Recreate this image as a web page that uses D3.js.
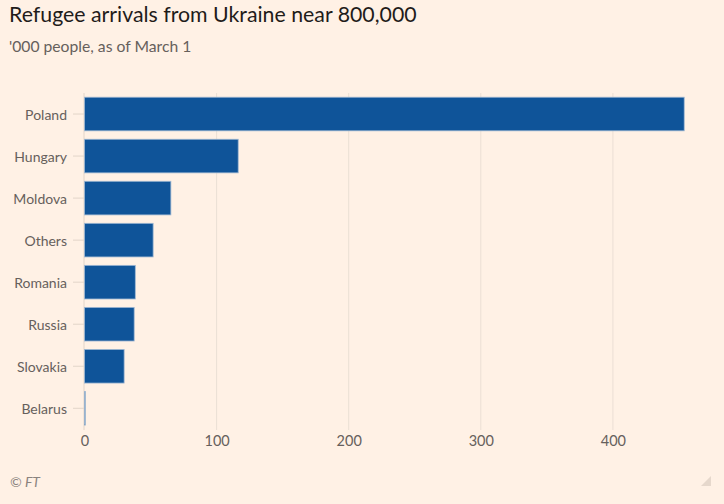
<!DOCTYPE html>
<html><head><meta charset="utf-8">
<script src="https://cdn.jsdelivr.net/npm/d3@7"></script>
<style>
body{margin:0;background:#fff1e5;}
svg{display:block;font-family:Lato,"Noto Sans",sans-serif;}
</style></head><body>
<svg id="c" width="724" height="504"></svg>
<script>
const countries = ["Poland","Hungary","Moldova","Others","Romania","Russia","Slovakia","Belarus"];
const arrivals = [453.98, 116.35, 65.39, 51.95, 38.46, 37.6, 30.0, 0.36];
const xTicks = [0,100,200,300,400];

const svg = d3.select("#c");
svg.append("rect").attr("width",724).attr("height",504).attr("fill","#fff1e5");

svg.append("text").attr("x",9).attr("y",22).attr("font-size",21.3).attr("fill","#1f1c1a").text("Refugee arrivals from Ukraine near 800,000");
svg.append("text").attr("x",9).attr("y",52).attr("font-size",15.7).attr("fill","#66605c").text("'000 people, as of March 1");

const x = d3.scaleLinear().domain([0,400]).range([84.5,612.9]);
const y = d3.scaleBand().domain(countries).range([93,429.3]).paddingInner(0.2).paddingOuter(0.1);

const g = svg.append("g");
g.selectAll(".grid").data(xTicks.slice(1)).join("line")
  .attr("x1",d=>x(d)).attr("x2",d=>x(d)).attr("y1",93).attr("y2",430)
  .attr("stroke","#ebdfd4").attr("stroke-width",1);

g.selectAll(".bar").data(countries).join("rect")
  .attr("x",x(0)).attr("y",d=>y(d))
  .attr("width",(d,i)=>Math.max(0.8,x(arrivals[i])-x(0)))
  .attr("height",y.bandwidth())
  .attr("fill","#0f5499").attr("stroke","#9fb8d3").attr("stroke-width",0.8);

const yAxis = d3.axisLeft(y).tickSize(11).tickPadding(6);
const ya = svg.append("g").attr("transform",`translate(${x(0)-0.5},0)`).call(yAxis);
ya.select(".domain").attr("stroke","#e2d5c9").attr("d","M0,93V430");
ya.selectAll(".tick line").attr("stroke","#e2d5c9");
ya.selectAll(".tick text").attr("font-size",14).attr("fill","#66605c").attr("font-family",'Lato,"Noto Sans",sans-serif').attr("dy","0.4em");
g.raise();

const xa = svg.append("g").attr("transform","translate(0,430)").call(d3.axisBottom(x).tickValues(xTicks).tickSize(0).tickPadding(6));
xa.select(".domain").remove();
xa.selectAll(".tick text").attr("font-size",14.5).attr("fill","#66605c").attr("font-family",'Lato,"Noto Sans",sans-serif');

svg.append("text").attr("x",10).attr("y",487).attr("font-size",14).attr("font-style","italic").attr("fill","#8a837e").text("© FT");
svg.append("path").attr("d","M701,486L711,476L711,486Z").attr("fill","#e6d8cc");
</script>
</body></html>
